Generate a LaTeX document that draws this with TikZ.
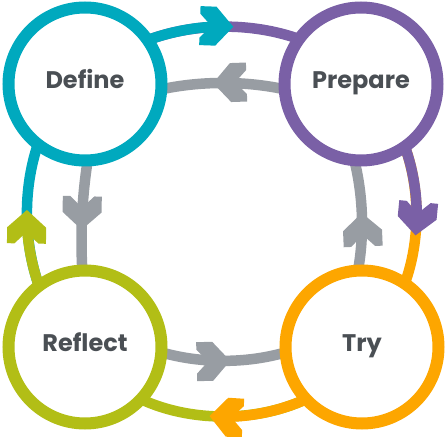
\documentclass[tikz,border=0pt]{standalone}
\usepackage{fontspec}
\setmainfont{Poppins}
\usetikzlibrary{decorations.markings}

\definecolor{defcol}{RGB}{0,169,190}
\definecolor{prepcol}{RGB}{122,96,166}
\definecolor{refcol}{RGB}{178,190,22}
\definecolor{trycol}{RGB}{253,166,0}
\definecolor{arrowgray}{RGB}{152,157,163}
\definecolor{labelgray}{RGB}{74,79,84}

\pgfdeclarelayer{back}
\pgfsetlayers{back,main}

\begin{document}
\begin{tikzpicture}[x=1pt, y=1pt,
    stage/.style={circle, draw=#1, line width=12pt, fill=white, minimum size=153pt,
        inner sep=0pt, outer sep=0pt, text=labelgray, text height=12pt, text depth=2pt,
        font=\bfseries\fontsize{24}{24}\selectfont},
    cycarc/.style={line width=10.5pt, looseness=0.85},
    chev/.style n args={3}{postaction={decorate}, decoration={markings,
        mark=at position #1 with {\fill[#2] (0pt,0pt) -- (-17.5pt,19.5pt) -- (-33.5pt,19.5pt)
            -- (-33.5pt,12pt) -- (-22pt,0pt) -- (-33.5pt,-12pt) -- (-33.5pt,-19.5pt)
            -- (-17.5pt,-19.5pt) -- cycle; \coordinate (#3) at (-10pt,0pt);}}}]
    \useasboundingbox (0,0) rectangle (448,437);

    \node[stage=defcol] (define) at (85,353) {Define};
    \node[stage=prepcol] (prepare) at (361,353) {Prepare};
    \node[stage=refcol] (reflect) at (85,90) {Reflect};
    \node[stage=trycol] (try) at (362,90) {Try};

    \begin{pgfonlayer}{back}
    \draw[cycarc, prepcol, chev={0.565}{defcol}{dp}] (define.35) to[bend left=20] (prepare.144);
    \draw[cycarc, defcol] (define.35) to[bend left=9.9] (dp);
    \draw[cycarc, trycol, chev={0.645}{prepcol}{pt}] (prepare.-55) to[bend left=20] (try.56);
    \draw[cycarc, prepcol] (prepare.-55) to[bend left=11.5] (pt);
    \draw[cycarc, refcol, chev={0.582}{trycol}{tr}] (try.-137) to[bend left=25] (reflect.-43);
    \draw[cycarc, trycol] (try.-137) to[bend left=13] (tr);
    \draw[cycarc, defcol, chev={0.536}{refcol}{rd}] (reflect.127) to[bend left=19] (define.-128);
    \draw[cycarc, refcol] (reflect.127) to[bend left=8.9] (rd);

    \draw[cycarc, arrowgray, chev={0.58}{arrowgray}{gpd}] (prepare.184) to[bend right=12] (define.-4);
    \draw[cycarc, arrowgray, chev={0.63}{arrowgray}{gdr}] (define.-88) to[bend right=6] (reflect.92);
    \draw[cycarc, arrowgray, chev={0.553}{arrowgray}{grt}] (reflect.-4) to[bend right=16] (try.184);
    \draw[cycarc, arrowgray, chev={0.52}{arrowgray}{gtp}] (try.93.5) to[bend right=12] (prepare.265);
    \end{pgfonlayer}
\end{tikzpicture}
\end{document}
